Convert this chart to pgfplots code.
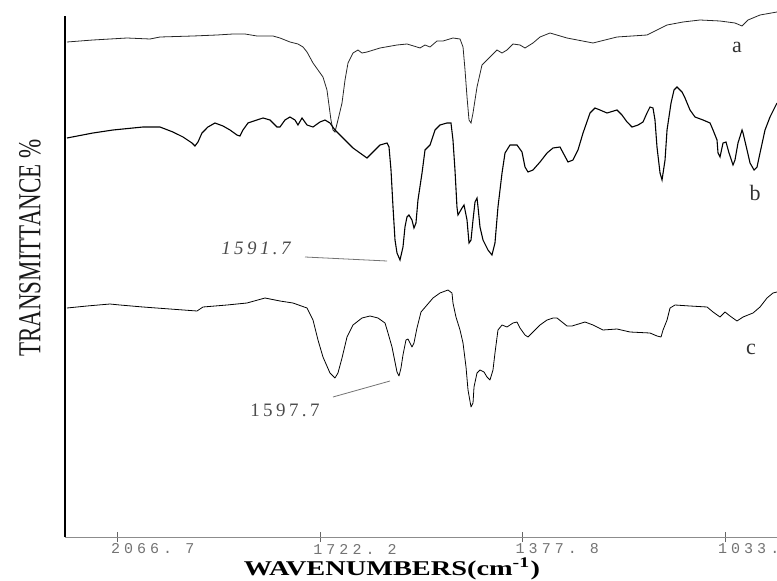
\documentclass[border=0pt]{standalone}
\usepackage{fontspec}
\setmainfont{Liberation Serif}
\setmonofont{Liberation Mono}
\usepackage{pgfplots}
\pgfplotsset{compat=1.18}
\begin{document}
\begin{tikzpicture}[x=1pt,y=1pt]
\path[use as bounding box] (0,0) rectangle (388.5,290);
\begin{axis}[
  at={(32.5pt,21.5pt)}, anchor=south west,
  width=356pt, height=260.5pt, scale only axis,
  x dir=reverse, xmin=944.8, xmax=2156.9, ymin=3, ymax=524,
  axis x line=bottom, axis y line=left,
  axis line style={-},
  x axis line style={black!45, line width=0.5pt},
  y axis line style={black, line width=1.1pt},
  xtick={2066.7,1722.2,1377.8,1033.3},
  xticklabels={2066. 7,1722. 2,1377. 8,1033. 3},
  ytick=\empty,
  tick align=center, major tick length=5pt,
  tick style={black!60, line width=0.5pt},
  xticklabel style={font=\ttfamily\fontsize{7.5}{8}\selectfont\addfontfeature{LetterSpace=27}, text=black!55, anchor=west, xshift=-7pt, yshift=-3.5pt},
  clip=false,
  cycle list={{black!85, line width=0.55pt, line join=round, mark=none}},
]
% curve a
\addplot coordinates {
(2153.5,498)(2109.3,500)(2051.4,502)(2012.2,501)(1995.2,503)(1939.0,504)(1898.2,505)
(1870.9,506)(1850.5,506)(1830.1,504)(1802.8,504)(1790.9,502)(1773.9,498)(1760.3,496)
(1751.7,493)(1744.9,488)(1734.7,477)(1726.2,470)(1717.7,463)(1710.9,450)(1707.5,435)
(1704.1,420)(1700.7,410)(1697.3,408)(1692.2,420)(1685.3,437)(1680.2,460)(1675.1,477)
(1666.6,487)(1658.1,490)(1651.3,487)(1642.8,488)(1620.6,492)(1591.7,495)(1574.7,496)
(1557.7,493)(1552.5,492)(1544.0,495)(1535.5,493)(1523.6,499)(1513.4,499)(1496.4,502)
(1484.4,501)(1479.3,493)(1475.9,470)(1472.5,443)(1469.1,420)(1465.7,417)(1462.3,427)
(1455.5,453)(1447.0,475)(1433.4,483)(1421.5,490)(1412.9,487)(1404.4,490)(1394.2,496)
(1382.3,495)(1373.8,492)(1360.2,497)(1348.2,503)(1331.2,507)(1302.3,502)(1258.0,497)
(1217.2,503)(1166.1,505)(1132.0,515)(1104.8,518)(1075.8,520)(1041.8,519)(1016.3,517)
(1004.3,514)(994.1,520)(973.7,525)(944.8,528)
};
% curve b
\addplot coordinates {
(2153.5,402)(2109.3,407)(2075.2,410)(2024.1,413)(1995.2,413)(1973.1,408)(1956.0,403)
(1940.7,397)(1935.6,394)(1930.5,398)(1923.7,407)(1913.5,413)(1901.6,417)(1887.9,414)
(1876.0,410)(1864.1,405)(1859.0,404)(1853.9,410)(1845.4,417)(1830.1,420)(1819.8,422)
(1807.9,420)(1796.0,413)(1790.9,413)(1782.4,420)(1773.9,423)(1765.4,420)(1760.3,415)
(1753.4,422)(1744.9,415)(1734.7,413)(1722.8,418)(1714.3,420)(1705.8,417)(1697.3,410)
(1688.7,405)(1676.8,398)(1666.6,392)(1654.7,387)(1642.8,382)(1632.6,388)(1620.6,395)
(1608.7,397)(1605.3,393)(1601.9,370)(1598.5,333)(1595.1,300)(1591.7,287)(1586.6,280)
(1581.5,293)(1578.1,313)(1574.7,323)(1571.3,325)(1566.2,320)(1562.8,312)(1559.4,317)
(1556.0,340)(1549.1,367)(1544.0,390)(1535.5,395)(1527.0,410)(1518.5,415)(1506.6,417)
(1499.8,417)(1496.4,400)(1493.0,370)(1489.6,333)(1487.9,325)(1481.0,332)(1477.6,335)
(1472.5,320)(1469.1,297)(1465.7,300)(1462.3,320)(1458.9,338)(1455.5,342)(1453.8,333)
(1450.4,313)(1445.3,300)(1436.8,290)(1430.0,285)(1424.9,297)(1419.8,333)(1412.9,367)
(1407.8,387)(1399.3,395)(1387.4,395)(1378.9,388)(1373.8,373)(1368.7,368)(1360.2,370)
(1348.2,378)(1336.3,387)(1326.1,392)(1314.2,393)(1300.6,378)(1292.1,380)(1283.6,390)
(1275.0,407)(1263.1,427)(1254.6,432)(1246.1,430)(1234.2,427)(1217.2,430)(1208.7,425)
(1200.1,418)(1191.6,413)(1181.4,415)(1172.9,418)(1166.1,427)(1161.0,433)(1155.9,432)
(1152.5,420)(1149.1,393)(1143.9,367)(1140.5,360)(1135.4,380)(1132.0,410)(1125.2,437)
(1120.1,450)(1115.0,453)(1106.5,448)(1101.4,442)(1092.9,430)(1084.4,423)(1070.7,420)
(1058.8,417)(1053.7,410)(1046.9,400)(1045.2,387)(1041.8,383)(1036.7,397)(1031.6,398)
(1026.5,387)(1019.7,375)(1016.3,380)(1011.2,397)(1004.3,410)(1002.6,407)(995.8,390)
(990.7,377)(983.9,370)(978.8,373)(973.7,387)(965.2,410)(956.7,423)(944.8,437)
};
% curve c
\addplot coordinates {
(2153.5,232)(2119.5,234)(2080.3,236)(2063.3,235)(2024.1,233)(1978.2,231)(1932.2,229)
(1922.0,233)(1881.1,235)(1847.1,237)(1816.4,242)(1790.9,239)(1768.8,237)(1744.9,232)
(1734.7,220)(1726.2,200)(1717.7,183)(1705.8,167)(1697.3,162)(1692.2,167)(1685.3,182)
(1676.8,203)(1666.6,215)(1651.3,222)(1637.7,224)(1624.1,222)(1612.1,217)(1607.0,207)
(1600.2,193)(1595.1,178)(1591.7,168)(1588.3,164)(1584.9,172)(1581.5,185)(1576.4,200)
(1573.0,201)(1566.2,193)(1562.8,197)(1557.7,212)(1550.8,228)(1540.6,235)(1530.4,242)
(1518.5,247)(1504.9,250)(1498.1,247)(1496.4,237)(1491.3,223)(1484.4,210)(1479.3,197)
(1474.2,173)(1470.8,150)(1465.7,133)(1462.3,137)(1460.6,153)(1455.5,167)(1450.4,170)
(1443.6,168)(1438.5,163)(1433.4,160)(1428.3,170)(1424.9,187)(1419.8,210)(1412.9,215)
(1404.4,213)(1394.2,217)(1387.4,218)(1382.3,212)(1373.8,205)(1368.7,203)(1360.2,208)
(1348.2,215)(1336.3,220)(1326.1,222)(1319.3,222)(1302.3,214)(1293.8,214)(1271.6,218)
(1258.0,215)(1241.0,210)(1217.2,211)(1195.0,208)(1161.0,207)(1149.1,204)(1142.2,203)
(1138.8,210)(1132.0,220)(1126.9,232)(1118.4,235)(1092.9,234)(1063.9,233)(1053.7,228)
(1041.8,223)(1033.3,228)(1024.8,224)(1012.9,219)(1002.6,223)(985.6,227)(973.7,233)
(961.8,242)(951.6,247)(944.8,248)
};
% annotations
\node[font=\fontsize{11}{11}\selectfont, text=black!80] at (axis cs:1012.9,493) {a};
\node[font=\fontsize{11}{11}\selectfont, text=black!80] at (axis cs:982.2,347) {b};
\node[font=\fontsize{11}{11}\selectfont, text=black!80] at (axis cs:989.0,191) {c};
\node[font=\itshape\fontsize{9.5}{10}\selectfont\addfontfeature{LetterSpace=18}, text=black!70] at (axis cs:1831.8,292) {1591.7};
\draw[black!55, line width=0.4pt] (axis cs:1748.3,283) -- (axis cs:1608.7,279);
\node[font=\fontsize{9.5}{10}\selectfont\addfontfeature{LetterSpace=18}, text=black!70] at (axis cs:1782.4,130) {1597.7};
\draw[black!55, line width=0.4pt] (axis cs:1700.7,143) -- (axis cs:1603.6,159);
\end{axis}
\node[rotate=90, font=\fontsize{16}{16}\selectfont, text=black!90] at (15,166) {\scalebox{0.72}[1]{TRANSMITTANCE \%}};
\node[font=\bfseries\fontsize{10.5}{11}\selectfont] at (196,5.5) {\scalebox{1.35}[1]{WAVENUMBERS(cm\textsuperscript{-1})}};
\end{tikzpicture}
\end{document}
